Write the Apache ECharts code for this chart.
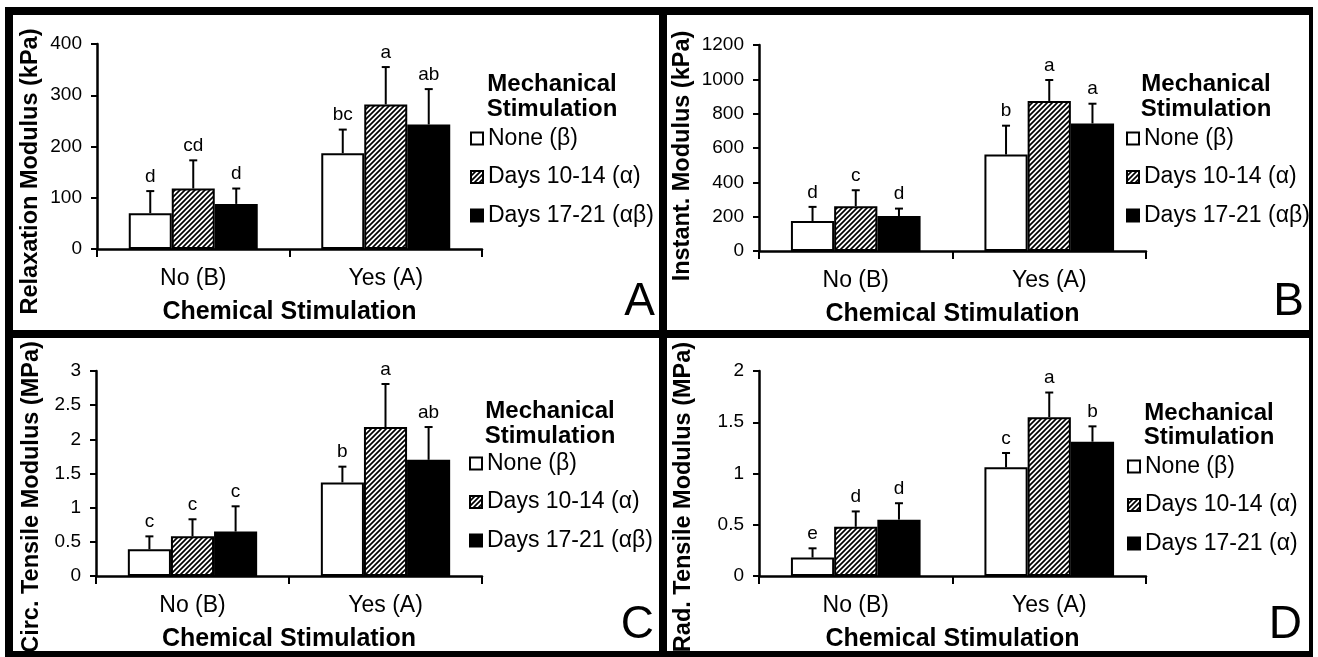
<!DOCTYPE html>
<html>
<head>
<meta charset="utf-8">
<script src="https://cdn.jsdelivr.net/npm/echarts@6/dist/echarts.min.js"></script>
<style>
html,body{margin:0;padding:0;background:#fff;}
#chart{width:1318px;height:657px;}
</style>
</head>
<body>
<div id="chart"></div>
<script>
// ---------- DATA ----------
const categories = ['No (B)', 'Yes (A)'];
const mechNames = ['None (β)', 'Days 10-14 (α)', 'Days 17-21 (αβ)'];
const mechNamesD = ['None (β)', 'Days 10-14 (α)', 'Days 17-21 (α)'];
const xTitle = 'Chemical Stimulation';
const legendTitle = 'Mechanical\nStimulation';

// Panel A: Relaxation Modulus (kPa)
const relaxTitle = 'Relaxation Modulus (kPa)';
const relaxTicks = [0, 100, 200, 300, 400];
const relaxNone = [70, 187];   const relaxNoneErr = [43, 46];   const relaxNoneSig = ['d', 'bc'];
const relaxD1014 = [118, 282]; const relaxD1014Err = [55, 73];  const relaxD1014Sig = ['cd', 'a'];
const relaxD1721 = [88, 243];  const relaxD1721Err = [30, 69];  const relaxD1721Sig = ['d', 'ab'];

// Panel B: Instant. Modulus (kPa)
const instTitle = 'Instant. Modulus (kPa)';
const instTicks = [0, 200, 400, 600, 800, 1000, 1200];
const instNone = [175, 562];   const instNoneErr = [82, 168];   const instNoneSig = ['d', 'b'];
const instD1014 = [261, 874];  const instD1014Err = [93, 122];  const instD1014Sig = ['c', 'a'];
const instD1721 = [204, 743];  const instD1721Err = [43, 115];  const instD1721Sig = ['d', 'a'];

// Panel C: Circ. Tensile Modulus (MPa)
const circTitle = 'Circ. Tensile Modulus (MPa)';
const circTicks = [0, 0.5, 1, 1.5, 2, 2.5, 3];
const circNone = [0.39, 1.37];  const circNoneErr = [0.19, 0.23];  const circNoneSig = ['c', 'b'];
const circD1014 = [0.58, 2.18]; const circD1014Err = [0.25, 0.63]; const circD1014Sig = ['c', 'a'];
const circD1721 = [0.65, 1.70]; const circD1721Err = [0.37, 0.48]; const circD1721Sig = ['c', 'ab'];

// Panel D: Rad. Tensile Modulus (MPa)
const radTitle = 'Rad. Tensile Modulus (MPa)';
const radTicks = [0, 0.5, 1, 1.5, 2];
const radNone = [0.18, 1.06];  const radNoneErr = [0.09, 0.14];  const radNoneSig = ['e', 'c'];
const radD1014 = [0.48, 1.55]; const radD1014Err = [0.15, 0.24]; const radD1014Sig = ['d', 'a'];
const radD1721 = [0.55, 1.31]; const radD1721Err = [0.16, 0.15]; const radD1721Sig = ['d', 'b'];

const panelLetters = ['A', 'B', 'C', 'D'];

// ---------- STYLE / LAYOUT ----------
const FONT = 'Liberation Sans, Arial, Helvetica, sans-serif';
const CAT_GAP = 0.33;

function hatchCanvas() {
  const s = 5;
  const c = document.createElement('canvas');
  c.width = s; c.height = s;
  const g = c.getContext('2d');
  g.fillStyle = '#fff'; g.fillRect(0, 0, s, s);
  g.strokeStyle = '#000'; g.lineWidth = 1.7; g.lineCap = 'square';
  g.beginPath();
  g.moveTo(0, s); g.lineTo(s, 0);
  g.moveTo(-1, 1); g.lineTo(1, -1);
  g.moveTo(s - 1, s + 1); g.lineTo(s + 1, s - 1);
  g.stroke();
  return c;
}
const hatch = { image: hatchCanvas(), repeat: 'repeat' };
const fills = ['#ffffff', hatch, '#000000'];

const panels = [
  { title: relaxTitle, ticks: relaxTicks, names: mechNames,
    vals: [relaxNone, relaxD1014, relaxD1721], errs: [relaxNoneErr, relaxD1014Err, relaxD1721Err], sigs: [relaxNoneSig, relaxD1014Sig, relaxD1721Sig],
    grid: { left: 97, top: 44, width: 385, height: 205 }, legend: { left: 470, top: 127 },
    ytitle: [31, 171.5], ltitle: [552, 97], letter: [655, 302] },
  { title: instTitle, ticks: instTicks, names: mechNames,
    vals: [instNone, instD1014, instD1721], errs: [instNoneErr, instD1014Err, instD1721Err], sigs: [instNoneSig, instD1014Sig, instD1721Sig],
    grid: { left: 759, top: 45, width: 387, height: 206 }, legend: { left: 1126, top: 127 },
    ytitle: [683, 156], ltitle: [1206, 97], letter: [1304, 302] },
  { title: circTitle, ticks: circTicks, names: mechNames,
    vals: [circNone, circD1014, circD1721], errs: [circNoneErr, circD1014Err, circD1721Err], sigs: [circNoneSig, circD1014Sig, circD1721Sig],
    grid: { left: 96, top: 371, width: 386, height: 205 }, legend: { left: 469, top: 452 },
    ytitle: [32, 497], ltitle: [550, 424], letter: [654, 625.5] },
  { title: radTitle, ticks: radTicks, names: mechNamesD,
    vals: [radNone, radD1014, radD1721], errs: [radNoneErr, radD1014Err, radD1721Err], sigs: [radNoneSig, radD1014Sig, radD1721Sig],
    grid: { left: 759, top: 371, width: 387, height: 205 }, legend: { left: 1127, top: 455 },
    ytitle: [684, 497], ltitle: [1209, 425.5], letter: [1302, 625] }
];

const grids = [], xAxes = [], yAxes = [], series = [], legends = [], graphics = [];

panels.forEach((p, pi) => {
  grids.push(Object.assign({ outerBoundsMode: 'none', containLabel: false }, p.grid));
  xAxes.push({
    type: 'category', gridIndex: pi, data: categories,
    axisLine: { lineStyle: { color: '#000', width: 2.5 } },
    axisTick: { show: true, length: 8, lineStyle: { color: '#000', width: 2 } },
    axisLabel: { color: '#000', fontSize: 23, fontFamily: FONT, margin: 18, lineHeight: 23 },
    name: xTitle, nameLocation: 'middle', nameGap: 51,
    nameTextStyle: { color: '#000', fontSize: 25, fontWeight: 'bold', fontFamily: FONT },
    splitLine: { show: false }
  });
  const t = p.ticks;
  yAxes.push({
    type: 'value', gridIndex: pi, min: t[0], max: t[t.length - 1], interval: t[1] - t[0],
    axisLine: { show: true, lineStyle: { color: '#000', width: 2.5 } },
    axisTick: { show: true, length: 6, lineStyle: { color: '#000', width: 2 } },
    axisLabel: { color: '#000', fontSize: 19, fontFamily: FONT, margin: 15, formatter: v => String(v) },
    splitLine: { show: false }
  });
  p.names.forEach((nm, si) => {
    series.push({
      type: 'bar', name: nm, xAxisIndex: pi, yAxisIndex: pi,
      data: p.vals[si], barGap: '0%', barCategoryGap: (CAT_GAP * 100) + '%',
      itemStyle: { color: fills[si], borderColor: '#000', borderWidth: 2 },
      emphasis: { disabled: true }, z: 2
    });
  });
  // error bars + significance letters
  const errData = [];
  const letters = [];
  p.names.forEach((nm, si) => {
    categories.forEach((c, ci) => {
      errData.push([ci, p.vals[si][ci], p.errs[si][ci], si]);
      letters.push(p.sigs[si][ci]);
    });
  });
  series.push({
    type: 'custom', xAxisIndex: pi, yAxisIndex: pi, z: 5, silent: true,
    data: errData,
    renderItem: function (params, api) {
      const ci = api.value(0), v = api.value(1), e = api.value(2), si = api.value(3);
      const base = api.coord([ci, v]);
      const top = api.coord([ci, v + e]);
      const band = api.size([1, 0])[0];
      const bw = band * (1 - CAT_GAP) / 3;
      const x = base[0] + (si - 1) * bw;
      const ls = { stroke: '#000', lineWidth: 2 };
      return {
        type: 'group',
        children: [
          { type: 'line', shape: { x1: x, y1: base[1], x2: x, y2: top[1] }, style: ls },
          { type: 'line', shape: { x1: x - 4, y1: top[1], x2: x + 4, y2: top[1] }, style: ls },
          { type: 'text', x: x, y: top[1] - 5,
            style: { text: letters[params.dataIndex], fill: '#000', font: '19px ' + FONT, align: 'center', verticalAlign: 'bottom' } }
        ]
      };
    }
  });
  legends.push({
    left: p.legend.left, top: p.legend.top, orient: 'vertical', padding: 0,
    itemWidth: 12, itemHeight: 12, itemGap: 15.5, icon: 'rect', selectedMode: false,
    data: p.names,
    textStyle: { color: '#000', fontSize: 23, lineHeight: 23, fontFamily: FONT }
  });
  graphics.push({
    type: 'text', x: p.ytitle[0], y: p.ytitle[1], rotation: Math.PI / 2,
    style: { text: p.title, fill: '#000', font: 'bold 23.5px ' + FONT, align: 'center', verticalAlign: 'middle' }
  });
  graphics.push({
    type: 'text', x: p.ltitle[0], y: p.ltitle[1],
    style: { text: legendTitle, fill: '#000', font: 'bold 24px ' + FONT, lineHeight: 24.5, align: 'center', verticalAlign: 'middle' }
  });
  graphics.push({
    type: 'text', x: p.letter[0], y: p.letter[1],
    style: { text: panelLetters[pi], fill: '#000', font: '46px ' + FONT, align: 'right', verticalAlign: 'middle' }
  });
});

// frame lines
const frame = [
  [5, 7, 8, 650], [5, 7, 1308, 8], [1309, 7, 4, 650], [5, 651, 1308, 6],
  [659, 7, 8, 650], [5, 330, 1308, 8]
];
frame.forEach(r => graphics.push({ type: 'rect', shape: { x: r[0], y: r[1], width: r[2], height: r[3] }, style: { fill: '#000' }, z: 100 }));

const chart = echarts.init(document.getElementById('chart'), null, { renderer: 'canvas' });
chart.setOption({
  backgroundColor: '#ffffff',
  animation: false,
  textStyle: { fontFamily: FONT },
  grid: grids, xAxis: xAxes, yAxis: yAxes, series: series, legend: legends,
  graphic: { elements: graphics }
});
</script>
</body>
</html>
